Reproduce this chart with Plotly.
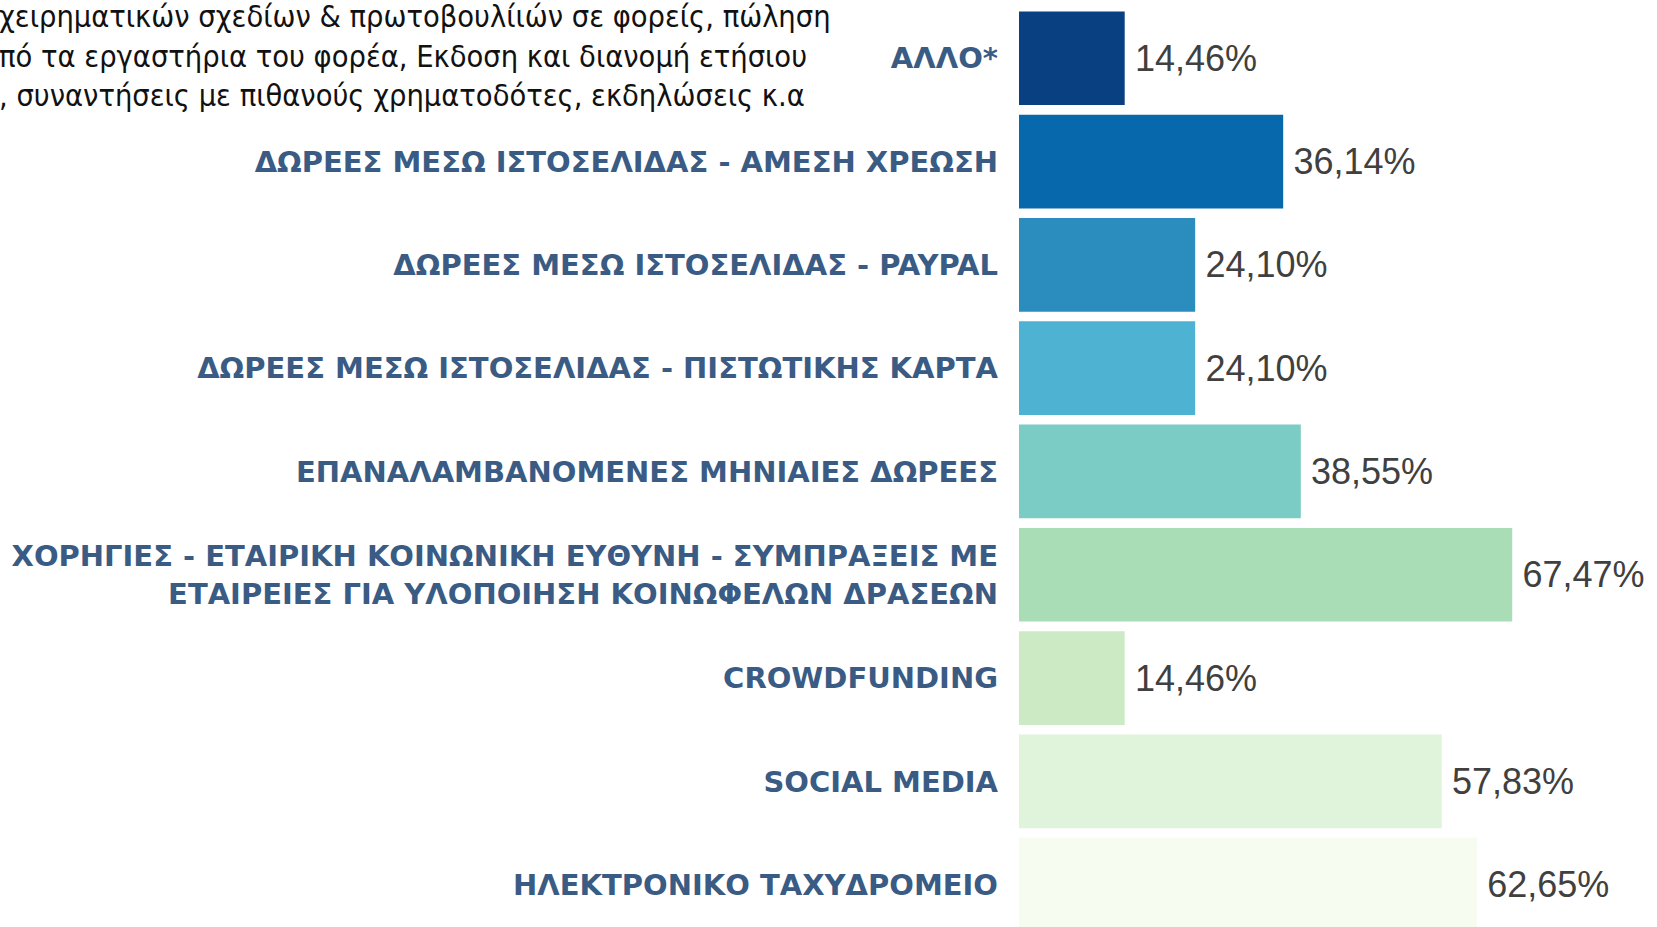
import plotly.graph_objects as go

categories = [
    "ΑΛΛΟ*",
    "ΔΩΡΕΕΣ ΜΕΣΩ ΙΣΤΟΣΕΛΙΔΑΣ - ΑΜΕΣΗ ΧΡΕΩΣΗ",
    "ΔΩΡΕΕΣ ΜΕΣΩ ΙΣΤΟΣΕΛΙΔΑΣ - PAYPAL",
    "ΔΩΡΕΕΣ ΜΕΣΩ ΙΣΤΟΣΕΛΙΔΑΣ - ΠΙΣΤΩΤΙΚΗΣ ΚΑΡΤΑ",
    "ΕΠΑΝΑΛΑΜΒΑΝΟΜΕΝΕΣ ΜΗΝΙΑΙΕΣ ΔΩΡΕΕΣ",
    "ΧΟΡΗΓΙΕΣ - ΕΤΑΙΡΙΚΗ ΚΟΙΝΩΝΙΚΗ ΕΥΘΥΝΗ - ΣΥΜΠΡΑΞΕΙΣ ΜΕ<br>ΕΤΑΙΡΕΙΕΣ ΓΙΑ ΥΛΟΠΟΙΗΣΗ ΚΟΙΝΩΦΕΛΩΝ ΔΡΑΣΕΩΝ",
    "CROWDFUNDING",
    "SOCIAL MEDIA",
    "ΗΛΕΚΤΡΟΝΙΚΟ ΤΑΧΥΔΡΟΜΕΙΟ",
]
values = [14.46, 36.14, 24.10, 24.10, 38.55, 67.47, 14.46, 57.83, 62.65]
colors = ["#084081", "#0868ac", "#2b8cbe", "#4eb3d3", "#7bccc4",
          "#a8ddb5", "#ccebc5", "#e0f3db", "#f7fcf0"]
note_lines = [
    "χειρηματικών σχεδίων &amp; πρωτοβουλίιών σε φορείς, πώληση",
    "πό τα εργαστήρια του φορέα, Εκδοση και διανομή ετήσιου",
    ", συναντήσεις με πιθανούς χρηματοδότες, εκδηλώσεις κ.α",
]

value_labels = ["\u2009" + f"{v:.2f}".replace(".", ",") + "%" for v in values]
tick_labels = ["<b>" + c.replace("<br>", "</b><br><b>") + "</b>" for c in categories]

W, H = 1657, 927
L = 1019

fig = go.Figure()
fig.add_trace(go.Bar(
    y=categories,
    x=values,
    orientation="h",
    marker=dict(color=colors, line=dict(width=0)),
    text=value_labels,
    textposition="outside",
    textfont=dict(family="Liberation Sans, Arial, sans-serif", size=36, color="#404040"),
    cliponaxis=False,
    hoverinfo="skip",
))

fig.update_layout(
    width=W, height=H,
    margin=dict(l=L, r=0, t=0, b=0, pad=0),
    paper_bgcolor="white",
    plot_bgcolor="white",
    bargap=0.093,
    showlegend=False,
)
fig.update_xaxes(
    range=[0, (W - L) / 7.31],
    visible=False,
    showgrid=False,
    zeroline=False,
)
fig.update_yaxes(
    type="category",
    categoryorder="array",
    categoryarray=categories,
    tickvals=categories,
    ticktext=tick_labels,
    range=[8.41, -0.564],
    showgrid=False,
    zeroline=False,
    showline=False,
    ticks="",
    ticklabelstandoff=20,
    tickfont=dict(family="DejaVu Sans, sans-serif", size=29, color="#395b84"),
)

fig.add_annotation(
    xref="paper", yref="paper",
    x=(-3 - L) / (W - L), y=1 - 56 / H,
    xanchor="left", yanchor="middle",
    align="left",
    text="<br>".join(note_lines),
    showarrow=False,
    font=dict(family="Liberation Sans Narrow, DejaVu Sans Condensed, sans-serif", size=30.5, color="#111111"),
)

fig.write_html(
    "out.html",
    config={"displayModeBar": False},
    post_script="document.body.style.margin='0';document.body.style.overflow='hidden';",
)
